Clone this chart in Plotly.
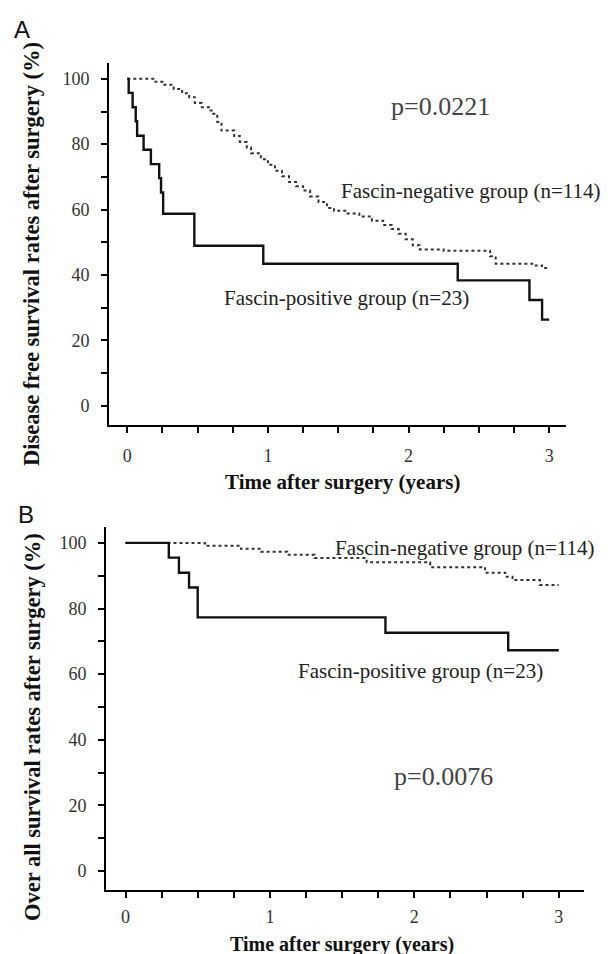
import plotly.graph_objects as go

# ---------------- data ----------------
# Panel A: disease free survival
a_pos_t = [0, 0.01, 0.038, 0.06, 0.07, 0.116, 0.168, 0.227, 0.24, 0.255, 0.477, 0.967, 2.35, 2.86, 2.95, 3.0]
a_pos_s = [100, 95.7, 91.3, 87.0, 82.6, 78.3, 73.9, 69.6, 65.2, 58.7, 48.9, 43.4, 38.3, 32.3, 26.3, 26.3]

a_neg_t = [0, 0.20, 0.25, 0.33, 0.39, 0.44, 0.48, 0.53, 0.58, 0.61, 0.64, 0.67, 0.76, 0.80, 0.85, 0.88,
           0.95, 1.00, 1.05, 1.10, 1.15, 1.20, 1.25, 1.30, 1.36, 1.42, 1.47, 1.56, 1.65, 1.74, 1.82, 1.88,
           1.93, 1.98, 2.03, 2.08, 2.25, 2.58, 2.62, 2.88, 2.95, 3.00]
a_neg_s = [100, 99.1, 98.2, 96.9, 95.6, 94.4, 92.6, 91.3, 90.3, 89.3, 86.8, 84.2, 82.5, 80.7, 79.0, 77.2,
           75.4, 73.7, 71.9, 70.2, 68.4, 67.1, 65.8, 64.0, 62.3, 60.5, 59.6, 58.8, 57.9, 56.6, 55.3, 54.0,
           52.6, 50.9, 49.1, 47.8, 47.4, 45.7, 43.4, 42.9, 42.1, 42.1]

# Panel B: overall survival
b_pos_t = [0, 0.30, 0.37, 0.44, 0.50, 1.80, 2.65, 3.00]
b_pos_s = [100, 95.5, 90.9, 86.4, 77.3, 72.6, 67.3, 67.3]

b_neg_t = [0, 0.55, 0.80, 0.94, 1.12, 1.31, 1.67, 2.11, 2.49, 2.63, 2.68, 2.87, 3.00]
b_neg_s = [100, 99.1, 98.2, 97.3, 96.4, 95.4, 94.1, 92.6, 90.9, 89.7, 88.7, 87.2, 87.2]

x_ticks = [0, 1, 2, 3]
y_ticks = [0, 20, 40, 60, 80, 100]

neg_label = "Fascin-negative group (n=114)"
pos_label = "Fascin-positive group (n=23)"
p_a = "p=0.0221"
p_b = "p=0.0076"
x_title = "Time after surgery (years)"
y_title_a = "Disease free survival rates after surgery (%)"
y_title_b = "Over all survival rates after surgery (%)"

# ---------------- figure ----------------
W, H = 613, 954
def px(x):
    return x / W
def py(y):
    return 1 - y / H

SERIF = "Liberation Serif, Times New Roman, serif"

fig = go.Figure()
fig.add_trace(go.Scatter(x=a_neg_t, y=a_neg_s, mode="lines", line=dict(shape="hv", color="#333333", width=2, dash="dot"),
                         xaxis="x", yaxis="y", showlegend=False))
fig.add_trace(go.Scatter(x=a_pos_t, y=a_pos_s, mode="lines", line=dict(shape="hv", color="#111111", width=2.4),
                         xaxis="x", yaxis="y", showlegend=False))
fig.add_trace(go.Scatter(x=b_neg_t, y=b_neg_s, mode="lines", line=dict(shape="hv", color="#333333", width=2, dash="dot"),
                         xaxis="x2", yaxis="y2", showlegend=False))
fig.add_trace(go.Scatter(x=b_pos_t, y=b_pos_s, mode="lines", line=dict(shape="hv", color="#111111", width=2.4),
                         xaxis="x2", yaxis="y2", showlegend=False))

tickfont = dict(family=SERIF, size=18, color="#333333")

def xax(domain, rng, anchor, standoff):
    return dict(domain=domain, range=rng, anchor=anchor, showline=True, linewidth=2, linecolor="black",
                ticks="outside", ticklen=6, tickwidth=1.5, tickcolor="black",
                tickmode="array", tickvals=x_ticks, ticktext=[str(v) for v in x_ticks],
                minor=dict(tickmode="linear", tick0=0, dtick=0.25, ticks="outside", ticklen=6, tickwidth=1.5, tickcolor="black"),
                showgrid=False, zeroline=False, tickfont=tickfont, ticklabelstandoff=standoff)

def yax(domain, rng, anchor):
    return dict(domain=domain, range=rng, anchor=anchor, showline=True, linewidth=2, linecolor="black",
                ticks="outside", ticklen=6, tickwidth=1.5, tickcolor="black",
                tickmode="array", tickvals=y_ticks, ticktext=[str(v) for v in y_ticks],
                minor=dict(tickmode="linear", tick0=0, dtick=10, ticks="outside", ticklen=6, tickwidth=1.5, tickcolor="black"),
                showgrid=False, zeroline=False, tickfont=tickfont, ticklabelstandoff=8)

fig.update_layout(
    width=W, height=H, autosize=False,
    margin=dict(l=0, r=0, t=0, b=0),
    paper_bgcolor="white", plot_bgcolor="white",
    xaxis=xax([px(101), px(558)], [-0.13, 3.12], "y", 8),
    yaxis=yax([py(416.5), py(54.5)], [-5.8, 105], "x"),
    xaxis2=xax([px(98), px(576)], [-0.135, 3.175], "y2", 3),
    yaxis2=yax([py(882), py(518.5)], [-5.8, 105], "x2"),
)

ann = []
def text(x, y, s, size, color="#222222", bold=False, xanchor="center", angle=0, family=SERIF):
    ann.append(dict(x=px(x), y=py(y), xref="paper", yref="paper", text=("<b>%s</b>" % s if bold else s),
                    showarrow=False, xanchor=xanchor, yanchor="middle", textangle=angle,
                    font=dict(family=family, size=size, color=color)))

# panel letters
text(14, 22, "A", 24, color="#111111", family="Liberation Sans, Arial, sans-serif")
text(18, 506, "B", 24, color="#111111", family="Liberation Sans, Arial, sans-serif")

# panel A annotations
text(432, 98, p_a, 26, color="#444444")
text(331, 183, neg_label, 21, xanchor="left")
text(214, 290, pos_label, 21, xanchor="left")
# panel B annotations
text(325, 540, neg_label, 21, xanchor="left")
text(288, 663, pos_label, 21, xanchor="left")
text(435, 768, p_b, 26, color="#444444")

# axis titles
text(334, 474, x_title, 21, color="#111111", bold=True)
text(334, 936, x_title, 20, color="#111111", bold=True)
text(24, 246, y_title_a, 22.5, color="#111111", bold=True, angle=-90)
text(24, 719, y_title_b, 22.5, color="#111111", bold=True, angle=-90)

fig.update_layout(annotations=ann)
fig.write_html("out.html")
